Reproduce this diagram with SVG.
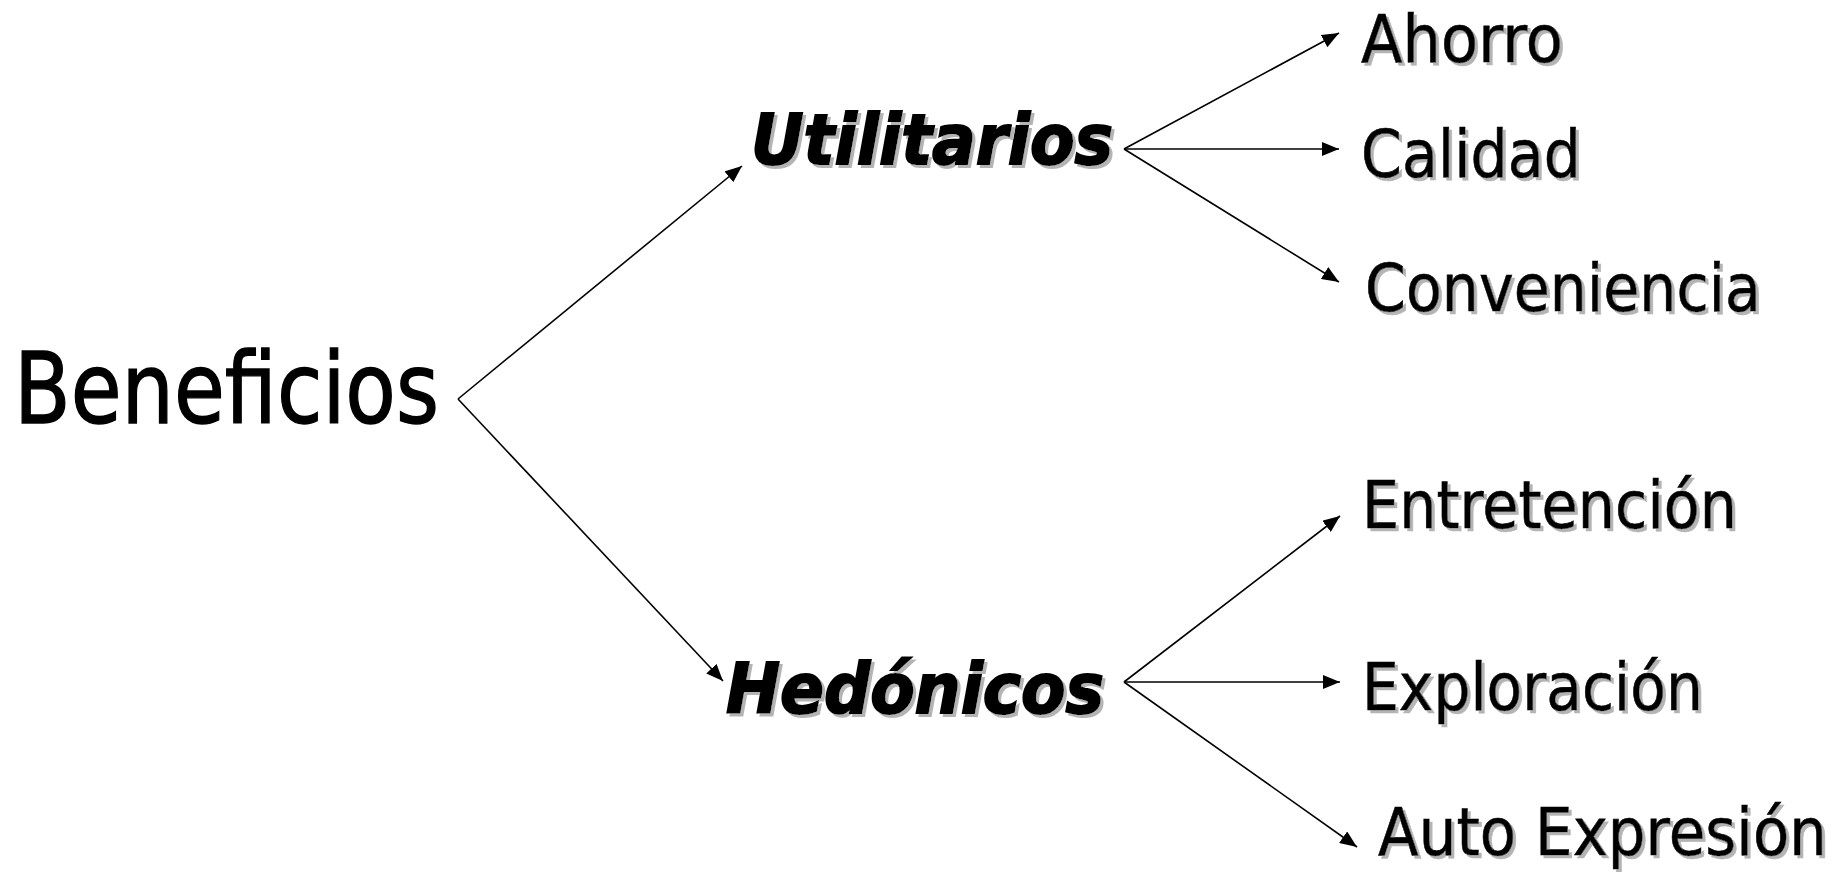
<svg xmlns="http://www.w3.org/2000/svg" width="1839" height="872" viewBox="0 0 1839 872">
<style>
.t{font-family:"DejaVu Sans","Verdana",sans-serif;fill:#000}
.leaf{font-size:66px;stroke:#000;stroke-width:0.6}
.mid{font-size:70px;font-weight:bold;font-style:italic;stroke:#000;stroke-width:2}
.root{font-size:98px;stroke:#000;stroke-width:1.4}
.c{stroke:#000;stroke-width:1.6;fill:none;marker-end:url(#ah)}
</style>
<defs>
<marker id="ah" viewBox="0 0 17 14" refX="17" refY="7" markerWidth="17" markerHeight="14" markerUnits="userSpaceOnUse" orient="auto">
<path d="M0,0 L17,7 L0,14 z" fill="#000"/>
</marker>
<filter id="sh" x="-5%" y="-20%" width="115%" height="150%">
<feFlood flood-color="#b4b4b4" result="f"/>
<feComposite in="f" in2="SourceAlpha" operator="in" result="s"/>
<feOffset in="s" dx="3" dy="3" result="o"/>
<feMerge><feMergeNode in="o"/><feMergeNode in="SourceGraphic"/></feMerge>
</filter>
</defs>
<rect width="1839" height="872" fill="#fff"/>
<g id="connectors">
<line class="c" x1="458" y1="399" x2="742" y2="166"/>
<line class="c" x1="458" y1="399" x2="723" y2="681"/>
<line class="c" x1="1124" y1="149" x2="1339" y2="33"/>
<line class="c" x1="1124" y1="149" x2="1339" y2="149"/>
<line class="c" x1="1124" y1="149" x2="1339" y2="282"/>
<line class="c" x1="1124" y1="682" x2="1340" y2="516"/>
<line class="c" x1="1124" y1="682" x2="1340" y2="682"/>
<line class="c" x1="1124" y1="682" x2="1357" y2="847"/>
</g>
<g id="beneficios"><text class="t root" x="14" y="423" textLength="425" lengthAdjust="spacingAndGlyphs">Beneficios</text></g>
<g id="utilitarios" filter="url(#sh)"><text class="t mid" x="751" y="164" textLength="362" lengthAdjust="spacingAndGlyphs">Utilitarios</text></g>
<g id="hedonicos" filter="url(#sh)"><text class="t mid" x="726" y="713" textLength="378" lengthAdjust="spacingAndGlyphs">Hedónicos</text></g>
<g id="ahorro" filter="url(#sh)"><text class="t leaf" x="1361" y="62" textLength="202" lengthAdjust="spacingAndGlyphs">Ahorro</text></g>
<g id="calidad" filter="url(#sh)"><text class="t leaf" x="1361" y="177" textLength="220" lengthAdjust="spacingAndGlyphs">Calidad</text></g>
<g id="conveniencia" filter="url(#sh)"><text class="t leaf" x="1365" y="311" textLength="396" lengthAdjust="spacingAndGlyphs">Conveniencia</text></g>
<g id="entretencion" filter="url(#sh)"><text class="t leaf" x="1362" y="528" textLength="375" lengthAdjust="spacingAndGlyphs">Entretención</text></g>
<g id="exploracion" filter="url(#sh)"><text class="t leaf" x="1362" y="710" textLength="341" lengthAdjust="spacingAndGlyphs">Exploración</text></g>
<g id="autoexpresion" filter="url(#sh)"><text class="t leaf" x="1378" y="855" textLength="449" lengthAdjust="spacingAndGlyphs">Auto Expresión</text></g>
</svg>
